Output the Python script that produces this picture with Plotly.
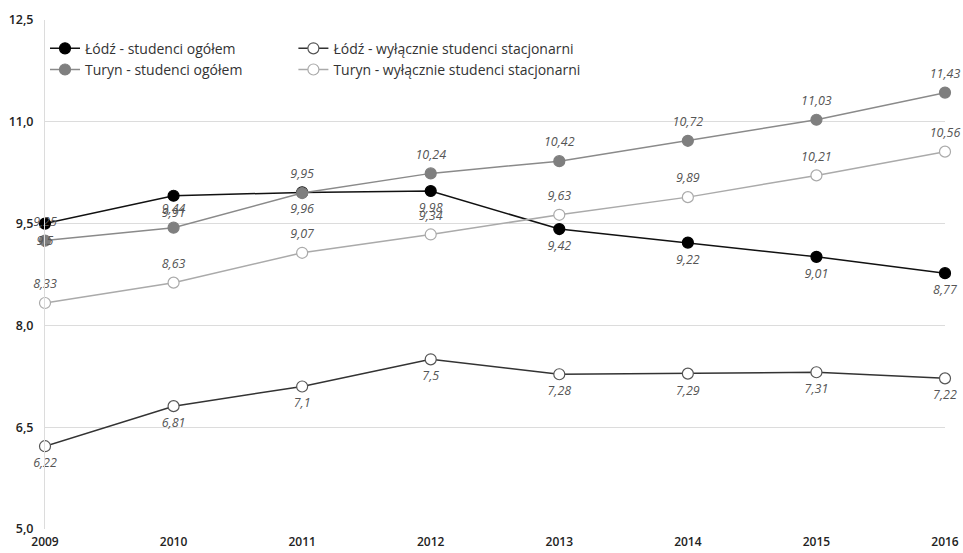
import plotly.graph_objects as go

years = [2009, 2010, 2011, 2012, 2013, 2014, 2015, 2016]
lodz_all = [9.5, 9.91, 9.96, 9.98, 9.42, 9.22, 9.01, 8.77]
turyn_all = [9.25, 9.44, 9.95, 10.24, 10.42, 10.72, 11.03, 11.43]
lodz_full = [6.22, 6.81, 7.1, 7.5, 7.28, 7.29, 7.31, 7.22]
turyn_full = [8.33, 8.63, 9.07, 9.34, 9.63, 9.89, 10.21, 10.56]
y_ticks = [5.0, 6.5, 8.0, 9.5, 11.0, 12.5]


def lbl(vals):
    # polish decimal comma
    return [f"{v:g}".replace('.', ',') for v in vals]


def series(y, name, line_col, fill, edge, legend, width=1.5):
    return go.Scatter(
        x=years, y=y, name=name, mode='lines+markers',
        line=dict(color=line_col, width=width),
        marker=dict(size=11, color=fill, line=dict(color=edge, width=1.2)),
        cliponaxis=False, legend=legend,
    )


def labels(y, pos):
    # invisible bigger markers just to push the value labels away from the points
    return go.Scatter(
        x=years, y=y, mode='markers+text', showlegend=False, hoverinfo='skip',
        marker=dict(size=17, opacity=0),
        text=lbl(y), textposition=pos, texttemplate='<i>%{text}</i>',
        textfont=dict(family='Open Sans', size=12.5, color='#555'),
        cliponaxis=False,
    )


fig = go.Figure()
fig.add_trace(series(lodz_all, 'Łódź - studenci ogółem', '#111', '#000', '#000', 'legend'))
fig.add_trace(series(turyn_all, 'Turyn - studenci ogółem', '#8a8a8a', '#7f7f7f', '#7f7f7f', 'legend'))
fig.add_trace(series(lodz_full, 'Łódź - wyłącznie studenci stacjonarni', '#333', '#fff', '#555', 'legend2'))
fig.add_trace(series(turyn_full, 'Turyn - wyłącznie studenci stacjonarni', '#aaa', '#fff', '#aaa', 'legend2'))
fig.add_trace(labels(lodz_all, 'bottom center'))
fig.add_trace(labels(turyn_all, 'top center'))
fig.add_trace(labels(lodz_full, 'bottom center'))
fig.add_trace(labels(turyn_full, 'top center'))

legend_style = dict(
    bgcolor='rgba(0,0,0,0)', font=dict(family='Open Sans', size=14, color='#333'),
    xanchor='left', yanchor='top', tracegroupgap=0, itemwidth=30,
)

fig.update_layout(
    width=963, height=553,
    margin=dict(l=45, r=18, t=20, b=24, autoexpand=False),
    plot_bgcolor='white', paper_bgcolor='white',
    font=dict(family='Open Sans', color='#333'),
    separators=', ',
    legend=dict(x=0.0, y=0.975, **legend_style),
    legend2=dict(x=0.276, y=0.975, **legend_style),
    xaxis=dict(range=[2009, 2016], tickvals=years, showgrid=False, zeroline=False,
               showline=False, automargin=False, ticklabelstandoff=4,
               tickfont=dict(size=12, color='#222', weight=600), ticks=''),
    yaxis=dict(range=[5, 12.5], tickvals=y_ticks, tickformat='.1f', showgrid=True,
               gridcolor='#dcdcdc', zeroline=False, showline=True, linecolor='#dcdcdc',
               automargin=False, ticklabelstandoff=8,
               tickfont=dict(size=12.5, color='#222', weight=600), ticks=''),
)

# drop the default page margin so the 963x553 figure fills the window
fig.write_html("out.html", config={'displayModeBar': False},
               post_script="document.body.style.margin='0';")
